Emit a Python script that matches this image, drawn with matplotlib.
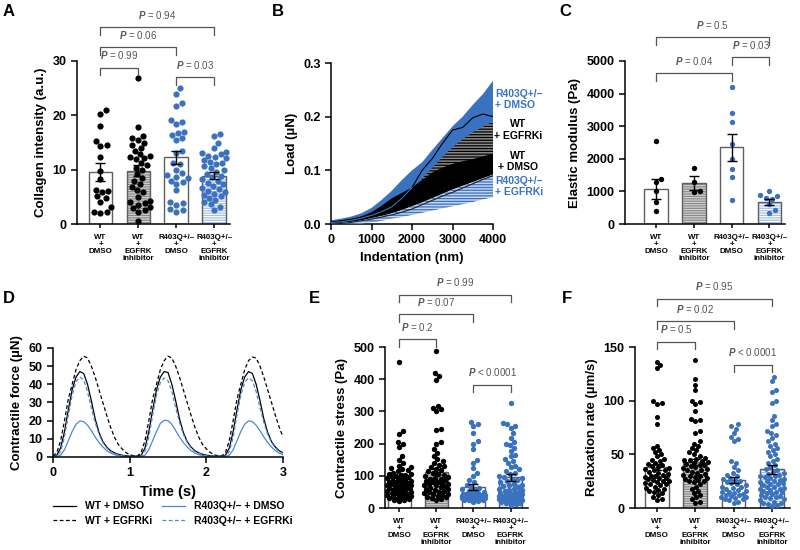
import numpy as np
import matplotlib
matplotlib.use("Agg")
import matplotlib.pyplot as plt

plt.rcParams['font.family'] = ['Liberation Sans', 'DejaVu Sans']
plt.rcParams['font.weight'] = 'bold'
plt.rcParams['axes.labelweight'] = 'bold'
plt.rcParams['mathtext.fontset'] = 'custom'
plt.rcParams['mathtext.it'] = 'Liberation Sans:italic'
plt.rcParams['mathtext.rm'] = 'Liberation Sans'
plt.rcParams['hatch.linewidth'] = 0.9

BLUE = '#3a72c0'

# ---------------- data ----------------
groups = ["WT\n+\nDMSO", "WT\n+\nEGFRK\ninhibitor", "R403Q+/\u2013\n+\nDMSO", "R403Q+/\u2013\n+\nEGFRK\ninhibitor"]

# A: collagen intensity
a_wt_dmso = [21.0, 20.3, 18.1, 15.2, 14.5, 14.3, 12.3, 9.8, 8.3, 6.3, 6.0, 5.9, 5.1, 4.8, 4.1, 3.2, 2.3, 2.3, 2.1]
a_wt_egfrki = [26.8, 17.8, 16.2, 15.9, 15.4, 15.0, 14.6, 14.0, 13.5, 12.8, 12.6, 12.4, 12.2, 12.0, 11.2, 10.8,
               10.4, 10.0, 9.2, 8.5, 8.0, 7.4, 6.9, 6.3, 5.8, 5.0, 4.3, 4.0, 3.8, 3.5, 3.2, 2.9, 2.6, 2.3, 0.5]
a_r_dmso = [25.0, 24.0, 22.2, 21.8, 19.1, 18.8, 18.4, 17.0, 16.7, 16.3, 15.8, 15.4, 13.4, 13.0, 11.3, 11.0,
            10.0, 9.3, 9.0, 8.7, 8.4, 8.0, 7.7, 7.4, 6.2, 4.0, 3.8, 3.5, 2.8, 2.5, 2.3]
a_r_egfrki = [16.6, 16.2, 15.0, 14.0, 13.3, 13.0, 12.8, 12.6, 12.3, 12.1, 11.8, 11.5, 11.2, 11.0, 10.6, 10.3,
              10.0, 9.6, 9.2, 8.9, 8.6, 8.2, 7.9, 7.6, 7.3, 7.0, 6.7, 6.4, 6.1, 5.9, 5.6, 5.4, 5.1, 4.8,
              4.4, 4.0, 3.6, 3.1, 2.6]
a_mean = [9.6, 9.8, 12.3, 8.9]
a_sem = [1.7, 1.0, 1.2, 0.6]

# B: load vs indentation (mean +/- range bands)
b_x = [0, 250, 500, 750, 1000, 1250, 1500, 1750, 2000, 2250, 2500, 2750, 3000, 3250, 3500, 3750, 4000]
b_rdmso_hi = [0.007, 0.010, 0.014, 0.020, 0.030, 0.045, 0.062, 0.082, 0.100, 0.115, 0.138, 0.160, 0.182,
              0.200, 0.222, 0.242, 0.267]
b_rdmso_lo = [0.002, 0.003, 0.005, 0.007, 0.010, 0.014, 0.020, 0.028, 0.036, 0.045, 0.055, 0.065, 0.075,
              0.085, 0.095, 0.105, 0.115]
b_rdmso_mean = [0.004, 0.006, 0.009, 0.013, 0.018, 0.025, 0.033, 0.045, 0.068, 0.100, 0.122, 0.150, 0.175,
                0.180, 0.198, 0.205, 0.200]
b_wtegf_hi = [0.003, 0.005, 0.008, 0.012, 0.019, 0.029, 0.040, 0.050, 0.062, 0.085, 0.105, 0.125, 0.143,
              0.158, 0.171, 0.181, 0.191]
b_wtegf_lo = [0.001, 0.002, 0.004, 0.006, 0.010, 0.015, 0.020, 0.026, 0.034, 0.042, 0.052, 0.062, 0.072,
              0.082, 0.092, 0.102, 0.112]
b_wtdmso_hi = [0.004, 0.006, 0.009, 0.014, 0.022, 0.034, 0.048, 0.058, 0.068, 0.082, 0.096, 0.105, 0.112,
               0.117, 0.121, 0.126, 0.131]
b_wtdmso_lo = [0.001, 0.002, 0.004, 0.007, 0.011, 0.015, 0.020, 0.026, 0.033, 0.040, 0.048, 0.056, 0.064,
               0.071, 0.078, 0.085, 0.092]
b_wtdmso_mean = [0.003, 0.004, 0.007, 0.011, 0.016, 0.023, 0.032, 0.048, 0.068]
b_regf_hi = [0.001, 0.002, 0.004, 0.007, 0.011, 0.015, 0.020, 0.026, 0.033, 0.040, 0.048, 0.056, 0.064,
             0.071, 0.078, 0.085, 0.092]
b_regf_lo = [0.0, 0.0, 0.0, 0.001, 0.003, 0.006, 0.010, 0.013, 0.017, 0.021, 0.025, 0.029, 0.033, 0.037,
             0.041, 0.046, 0.050]
b_regf_mean = [0.0, 0.001, 0.003, 0.006, 0.009, 0.013, 0.017, 0.022, 0.028, 0.036, 0.044, 0.052, 0.059,
               0.067, 0.075, 0.083, 0.090]

# C: elastic modulus
c_wt_dmso = [2560, 1380, 1300, 1020, 690, 400]
c_wt_egfrki = [1710, 1280, 1000, 990]
c_r_dmso = [4200, 3420, 3130, 2460, 1990, 1700, 1430, 730]
c_r_egfrki = [1010, 880, 850, 800, 780, 610, 430, 330]
c_mean = [1080, 1250, 2350, 680]
c_sem = [300, 210, 420, 100]

# D: contractile force traces, sampled every 0.05 s
d_t = [round(0.05 * i, 2) for i in range(61)]
d_wt_dmso = [0.5, 1.0, 5, 14, 26, 37, 44, 47, 46, 40, 31, 21, 13.5, 8.5, 5.5, 3.5, 2.3, 1.5, 1.0, 0.7, 0.5, 0.5,
             0.5, 1.0, 5, 14, 26, 37, 44, 47, 46.5, 40, 31, 21, 13.5, 8.5, 5.5, 3.5, 2.3, 1.5, 1.0, 0.7, 0.5, 0.5,
             0.5, 1.0, 5, 14, 26, 37, 44, 47, 46, 40, 31, 21, 13.5, 8.5, 5.5, 3.5, 2.3]
d_wt_egfrki = [0.5, 2.5, 9, 20, 32, 40, 48, 53, 55.5, 54.5, 50, 44, 37, 30, 23, 16.5, 11, 7, 4.5, 2.5, 1.3, 0.7,
               0.5, 2.5, 9, 20, 32, 40, 48, 53, 55.5, 54.5, 50, 44, 37, 30, 23, 16.5, 11, 7, 4.5, 2.5, 1.3, 0.7,
               0.5, 2.5, 9, 20, 32, 40, 48, 53, 55, 54.5, 50, 44, 37, 30, 23, 16.5, 11]
d_r_dmso = [0.3, 0.3, 1.0, 4, 9, 14, 18, 19.8, 19.5, 17.5, 14.5, 11, 8, 5.5, 3.5, 2.2, 1.3, 0.8, 0.5, 0.3, 0.3, 0.3,
            0.3, 0.3, 1.0, 4, 9, 14, 18.5, 20.2, 20.0, 18, 14.5, 11, 8, 5.5, 3.5, 2.2, 1.3, 0.8, 0.5, 0.3, 0.3, 0.3,
            0.3, 0.3, 1.0, 4, 9, 14, 18, 19.9, 19.5, 17.5, 14.5, 11, 8, 5.5, 3.5, 2.2, 1.3]
d_r_egfrki = [0.3, 0.5, 3, 11, 23, 34, 41.5, 44, 42.5, 36, 27, 19, 12.5, 8, 5, 3, 2, 1.2, 0.7, 0.4, 0.3, 0.3,
              0.3, 0.5, 3, 11, 23, 34, 41, 43.5, 42, 36, 27, 19, 12.5, 8, 5, 3, 2, 1.2, 0.7, 0.4, 0.3, 0.3,
              0.3, 0.5, 3, 11, 23, 34, 41, 43.5, 42, 36, 27, 19, 12.5, 8, 5, 3, 2]

# E: contractile stress
e_wt_dmso = [452, 238, 230, 205, 198, 190, 160, 148, 140, 132, 128, 124, 120, 117, 114, 110, 107, 104, 101, 98,
             96, 93, 90, 88, 86, 84, 82, 80, 78, 76, 74, 72, 70, 68, 66, 64, 62, 60, 58, 56, 54, 52, 50, 48, 46,
             44, 42, 40, 38, 36, 34, 32, 30, 28, 26, 24, 22, 75, 65, 55, 45, 35, 85, 95, 105]
e_wt_egfrki = [487, 418, 410, 398, 318, 312, 306, 300, 246, 242, 205, 198, 182, 172, 162, 152, 146, 140, 135,
               130, 126, 122, 118, 114, 110, 106, 103, 100, 97, 94, 91, 88, 85, 82, 79, 76, 73, 70, 67, 64, 61,
               58, 55, 52, 49, 46, 43, 40, 37, 34, 31, 28, 25, 90, 80, 70, 60, 50, 45, 35]
e_r_dmso = [268, 262, 255, 232, 208, 200, 182, 150, 140, 124, 110, 98, 86, 80, 72, 66, 62, 58, 55, 52, 50, 48,
            46, 44, 42, 40, 39, 38, 37, 36, 35, 34, 33, 32, 31, 30, 29, 28, 27, 26, 25, 24, 22, 20, 45, 41, 35, 30]
e_r_egfrki = [325, 265, 260, 255, 248, 232, 218, 205, 200, 195, 186, 176, 166, 160, 152, 146, 140, 132, 126, 120,
              115, 110, 105, 100, 96, 92, 88, 84, 80, 76, 72, 68, 64, 60, 57, 54, 51, 48, 45, 42, 40, 38, 36, 34,
              32, 30, 28, 26, 24, 22, 20, 18, 16, 14, 12, 10, 58, 50, 44, 38, 33, 28, 24, 35, 45, 55, 70, 90]
e_mean = [92, 112, 66, 95]
e_sem = [8, 9, 9, 10]

# F: relaxation rate
f_wt_dmso = [136, 133, 130, 100, 98, 97, 85, 78, 58, 56, 54, 52, 50, 48, 46, 45, 44, 42, 41, 40, 39, 38, 37, 36,
             35, 34, 33, 32, 31, 30, 29, 28, 27, 26, 25, 24, 23, 22, 21, 20, 19, 18, 17, 16, 15, 14, 12, 10, 8, 7,
             30, 25, 22, 28, 35]
f_wt_egfrki = [138, 120, 115, 110, 100, 99, 97, 90, 83, 82, 81, 72, 70, 62, 60, 58, 56, 54, 52, 50, 48, 47, 46,
               45, 44, 43, 42, 41, 40, 39, 38, 37, 36, 35, 34, 33, 32, 31, 30, 29, 28, 27, 26, 25, 24, 22, 20, 18,
               16, 14, 12, 10, 8, 6, 5, 35, 40, 30, 25, 45]
f_r_dmso = [78, 76, 74, 70, 66, 64, 62, 44, 42, 38, 35, 33, 31, 30, 28, 27, 26, 25, 24, 23, 22, 21, 20, 19, 18,
            17, 16, 15, 14, 13, 12, 11, 10, 9, 8, 7, 6, 5, 20, 15, 12, 10, 8]
f_r_egfrki = [122, 118, 110, 108, 100, 98, 86, 82, 78, 76, 72, 70, 68, 65, 62, 60, 58, 56, 54, 52, 50, 48, 46,
              44, 42, 40, 38, 36, 35, 34, 33, 32, 31, 30, 29, 28, 27, 26, 25, 24, 23, 22, 21, 20, 19, 18, 17, 16,
              15, 14, 13, 12, 11, 10, 9, 8, 7, 6, 5, 4, 3, 2, 20, 25, 30, 15, 10, 5, 22, 18]
f_mean = [38, 43, 26, 36]
f_sem = [3, 3, 3, 4]


# ---------------- helpers ----------------
def style(ax):
    for s in ['top', 'right']:
        ax.spines[s].set_visible(False)
    for s in ['left', 'bottom']:
        ax.spines[s].set_linewidth(1.1)
    ax.tick_params(width=1.1, length=4, labelsize=9)


def swarm(ax, xc, vals, diam, maxw):
    # simple beeswarm in pixel space
    pts = ax.transData.transform(np.column_stack([np.full(len(vals), float(xc)), vals]))
    x0 = pts[0, 0]
    ys = pts[:, 1]
    lim = ax.transData.transform((xc + maxw, 0))[0] - x0
    pxu = ax.transData.transform((xc + 1, 0))[0] - x0
    offs = np.zeros(len(vals))
    placed = []
    for k in np.argsort(ys):
        y = ys[k]
        near = [(px, py) for px, py in placed if abs(py - y) < diam]
        cands = [0.0]
        for px, py in near:
            dx = np.sqrt(diam ** 2 - (py - y) ** 2)
            cands += [px + dx, px - dx]
        ok = [c for c in cands if abs(c) <= lim and
              all((c - px) ** 2 + (y - py) ** 2 >= diam ** 2 - 1e-6 for px, py in near)]
        if ok:
            best = min(ok, key=abs)
        else:
            grid = np.linspace(-lim, lim, 17)
            best = max(grid, key=lambda c: min((c - px) ** 2 + (y - py) ** 2 for px, py in near))
        placed.append((best, y))
        offs[k] = best / pxu
    return offs


def bar_panel(ax, data, means, sems, xlim, ylim, yticks, ylabel, size, diam):
    style(ax)
    ax.set_xlim(*xlim)
    ax.set_ylim(*ylim)
    ax.set_yticks(yticks)
    faces = ['white', '#d4d4d4', 'white', '#ffffff']
    hcols = ['white', '#8a8a8a', 'white', '#a9c1e6']
    hatches = [None, '-------', None, '-------']
    cols = ['black', 'black', BLUE, BLUE]
    for i in range(4):
        ax.bar(i, means[i], width=0.62, color=faces[i], edgecolor=hcols[i], hatch=hatches[i], linewidth=0, zorder=1)
        ax.bar(i, means[i], width=0.62, fill=False, edgecolor='#5e5e5e', linewidth=1.0, zorder=2)
        offs = swarm(ax, i, data[i], diam, 0.32)
        ax.scatter(i + offs, data[i], s=size, color=cols[i], linewidths=0, zorder=3)
        ax.errorbar(i, means[i], yerr=sems[i], color='black', capsize=3.5, elinewidth=1, capthick=1, zorder=4)
    ax.set_xticks(range(4))
    ax.set_xticklabels(groups, fontsize=5.7, linespacing=1.0)
    ax.tick_params(axis='x', length=3, pad=4)
    ax.set_ylabel(ylabel, fontsize=9.5)


def bracket(ax, x1, x2, y, h, p):
    ax.plot([x1, x1, x2, x2], [y - h, y, y, y - h], color='#555555', lw=0.9, clip_on=False, zorder=5)
    ax.annotate(r'$P$ ' + p, xy=((x1 + x2) / 2, y), xytext=(0, 4.5), textcoords='offset points',
                ha='center', va='bottom', fontsize=7, color='#555555', fontweight='normal',
                annotation_clip=False)


fig = plt.figure(figsize=(8, 5.5), dpi=100)

# ---------------- A ----------------
axA = fig.add_axes([0.09625, 0.5927, 0.19125, 0.2964])
bar_panel(axA, [a_wt_dmso, a_wt_egfrki, a_r_dmso, a_r_egfrki], a_mean, a_sem,
          (-0.62, 3.42), (0, 30), [0, 10, 20, 30], 'Collagen intensity (a.u.)', 20, 6.5)
bracket(axA, 0, 3, 36.2, 1.4, '= 0.94')
bracket(axA, 0, 2, 32.5, 1.4, '= 0.06')
bracket(axA, 0, 1, 28.8, 1.4, '= 0.99')
bracket(axA, 2, 3, 27.0, 1.4, '= 0.03')

# ---------------- B ----------------
axB = fig.add_axes([0.41375, 0.5927, 0.2025, 0.2927])
style(axB)
axB.fill_between(b_x, b_rdmso_lo, b_rdmso_hi, facecolor=BLUE, linewidth=0, zorder=1)
axB.fill_between(b_x, b_wtegf_lo, b_wtegf_hi, facecolor='#8a8a8a', edgecolor='black', hatch='------',
                 linewidth=0, zorder=2)
axB.fill_between(b_x, b_wtdmso_lo, b_wtdmso_hi, facecolor='black', linewidth=0, zorder=3)
axB.fill_between(b_x, b_regf_lo, b_regf_hi, facecolor='#c3d4ee', edgecolor=BLUE, hatch='------',
                 linewidth=0, zorder=4)
axB.plot(b_x, b_rdmso_mean, color='black', lw=0.8, zorder=5)
axB.plot(b_x[:len(b_wtdmso_mean)], b_wtdmso_mean, color=BLUE, lw=0.8, zorder=5)
axB.plot(b_x, b_regf_mean, color='#222222', lw=0.8, zorder=5)
axB.set_xlim(0, 4000)
axB.set_ylim(0, 0.3)
axB.set_xticks([0, 1000, 2000, 3000, 4000])
axB.set_yticks([0.0, 0.1, 0.2, 0.3])
axB.set_yticklabels(['0.0', '0.1', '0.2', '0.3'])
axB.set_xlabel('Indentation (nm)', fontsize=9.5)
axB.set_ylabel('Load (\u00b5N)', fontsize=9.5)
fig.text(495 / 800, 1 - 99.5 / 550, 'R403Q+/\u2013\n+ DMSO', color=BLUE, fontsize=7.5, ha='left', va='center',
         linespacing=1.2)
fig.text(518 / 800, 1 - 130 / 550, 'WT\n+ EGFRKi', color='black', fontsize=7.5, ha='center', va='center',
         multialignment='center', linespacing=1.2)
fig.text(518 / 800, 1 - 161.5 / 550, 'WT\n+ DMSO', color='black', fontsize=7.5, ha='center', va='center',
         multialignment='center', linespacing=1.2)
fig.text(495 / 800, 1 - 186.5 / 550, 'R403Q+/\u2013\n+ EGFRKi', color=BLUE, fontsize=7.5, ha='left',
         va='center', linespacing=1.2)

# ---------------- C ----------------
axC = fig.add_axes([0.78125, 0.5927, 0.2, 0.2964])
bar_panel(axC, [c_wt_dmso, c_wt_egfrki, c_r_dmso, c_r_egfrki], c_mean, c_sem,
          (-0.82, 3.41), (0, 5000), [0, 1000, 2000, 3000, 4000, 5000], 'Elastic modulus (Pa)', 15, 6.0)
bracket(axC, 0, 3, 5727, 245, '= 0.5')
bracket(axC, 2, 3, 5123, 245, '= 0.03')
bracket(axC, 0, 2, 4631, 245, '= 0.04')

# ---------------- D ----------------
axD = fig.add_axes([0.06625, 0.1691, 0.2875, 0.1982])
style(axD)
lc = '#4f87d3'
axD.plot(d_t, d_wt_dmso, color='black', lw=0.9, label='WT + DMSO')
axD.plot(d_t, d_wt_egfrki, color='black', lw=0.9, ls=(0, (3, 2)), label='WT + EGFRKi')
axD.plot(d_t, d_r_dmso, color=lc, lw=0.9, label='R403Q+/\u2013 + DMSO')
axD.plot(d_t, d_r_egfrki, color=lc, lw=0.9, ls=(0, (3, 2)), label='R403Q+/\u2013 + EGFRKi')
axD.set_xlim(0, 3)
axD.set_ylim(0, 60)
axD.set_xticks([0, 1, 2, 3])
axD.set_yticks([0, 10, 20, 30, 40, 50, 60])
axD.set_xlabel('Time (s)', fontsize=10.5)
axD.set_ylabel('Contractile force (\u00b5N)', fontsize=9.5)
fig.legend(*axD.get_legend_handles_labels(), loc='upper left', bbox_to_anchor=(44 / 800, 1 - 492 / 550),
           ncol=2, frameon=False, fontsize=7.5, handlelength=2.2, columnspacing=1.0, labelspacing=0.45)

# ---------------- E ----------------
axE = fig.add_axes([0.48125, 0.07636, 0.17875, 0.2927])
bar_panel(axE, [e_wt_dmso, e_wt_egfrki, e_r_dmso, e_r_egfrki], e_mean, e_sem,
          (-0.38, 3.47), (0, 500), [0, 100, 200, 300, 400, 500], 'Contractile stress (Pa)', 15, 5.0)
bracket(axE, 0, 3, 663, 24, '= 0.99')
bracket(axE, 0, 2, 603, 24, '= 0.07')
bracket(axE, 0, 1, 524, 24, '= 0.2')
bracket(axE, 2, 3, 383, 24, '< 0.0001')

# ---------------- F ----------------
axF = fig.add_axes([0.79375, 0.07636, 0.19375, 0.2927])
bar_panel(axF, [f_wt_dmso, f_wt_egfrki, f_r_dmso, f_r_egfrki], f_mean, f_sem,
          (-0.57, 3.47), (0, 150), [0, 50, 100, 150], 'Relaxation rate (\u00b5m/s)', 13, 4.8)
bracket(axF, 0, 3, 195, 7.2, '= 0.95')
bracket(axF, 0, 2, 174, 7.2, '= 0.02')
bracket(axF, 0, 1, 155, 7.2, '= 0.5')
bracket(axF, 2, 3, 133.5, 7.2, '< 0.0001')

# panel letters
for lab, x, y in [('A', 3, 4), ('B', 272, 4), ('C', 559, 4), ('D', 3, 291), ('E', 309, 291), ('F', 562, 291)]:
    fig.text(x / 800, 1 - y / 550, lab, fontsize=12, fontweight='bold', va='top', ha='left')

fig.savefig('out.png', dpi=100)
